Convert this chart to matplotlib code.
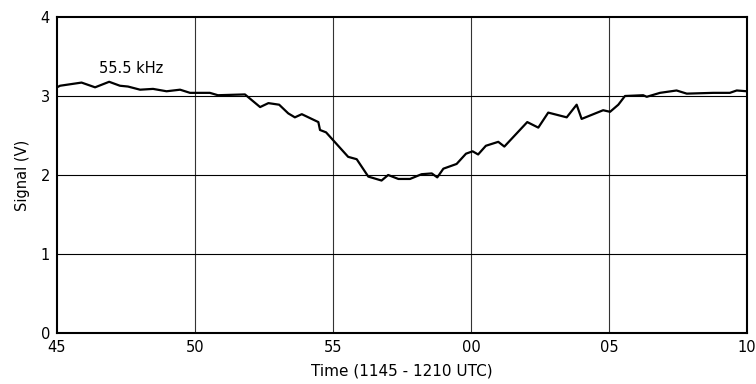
import numpy as np
import matplotlib
matplotlib.use('Agg')
import matplotlib.pyplot as plt

# minutes past 1100 UTC (60 = 1200)
minutes = [45.0, 45.11, 45.89, 46.38, 46.89, 47.28, 47.57, 48.01, 48.48, 48.97,
           49.46, 49.82, 50.54, 50.83, 51.81, 52.36, 52.66, 53.05, 53.38, 53.62,
           53.87, 54.47, 54.53, 54.75, 55.55, 55.86, 56.28, 56.76, 57.0, 57.37,
           57.79, 58.21, 58.58, 58.78, 59.0, 59.48, 59.82, 60.06, 60.26, 60.54,
           60.99, 61.21, 62.04, 62.44, 62.80, 63.47, 63.83, 64.01, 64.79, 65.04,
           65.34, 65.58, 66.24, 66.37, 66.85, 67.45, 67.82, 68.78, 69.38, 69.63,
           70.0]
signal = [3.11, 3.13, 3.17, 3.11, 3.18, 3.13, 3.12, 3.08, 3.09, 3.06,
          3.08, 3.04, 3.04, 3.01, 3.02, 2.86, 2.91, 2.89, 2.78, 2.73,
          2.77, 2.67, 2.57, 2.54, 2.23, 2.20, 1.98, 1.93, 2.00, 1.95,
          1.95, 2.01, 2.02, 1.97, 2.08, 2.14, 2.27, 2.30, 2.26, 2.37,
          2.42, 2.36, 2.67, 2.60, 2.79, 2.73, 2.89, 2.71, 2.82, 2.80,
          2.89, 3.00, 3.01, 2.99, 3.04, 3.07, 3.03, 3.04, 3.04, 3.07,
          3.06]

xticks = [45, 50, 55, 60, 65, 70]
xtick_labels = ['45', '50', '55', '00', '05', '10']
yticks = [0, 1, 2, 3, 4]

fig = plt.figure(figsize=(7.56, 3.84), dpi=100)
ax = fig.add_axes([0.0754, 0.1328, 0.9126, 0.8229])

ax.plot(minutes, signal, color='black', linewidth=1.6, zorder=3)

ax.set_xlim(45, 70)
ax.set_ylim(0, 4)
ax.set_xticks(xticks)
ax.set_xticklabels(xtick_labels)
ax.set_yticks(yticks)
ax.tick_params(length=0, labelsize=10.5, pad=5)

for x in xticks[1:-1]:
    ax.axvline(x, color='#333333', linewidth=0.8, zorder=1)
for y in yticks[1:-1]:
    ax.axhline(y, color='black', linewidth=0.8, zorder=1)

for s in ax.spines.values():
    s.set_linewidth(1.5)

ax.text(47.7, 3.35, '55.5 kHz', ha='center', va='center', fontsize=10.5)

ax.set_xlabel('Time (1145 - 1210 UTC)', fontsize=11, labelpad=6)
ax.set_ylabel('Signal (V)', fontsize=10.5, labelpad=8)

fig.savefig('out.png', dpi=100)
